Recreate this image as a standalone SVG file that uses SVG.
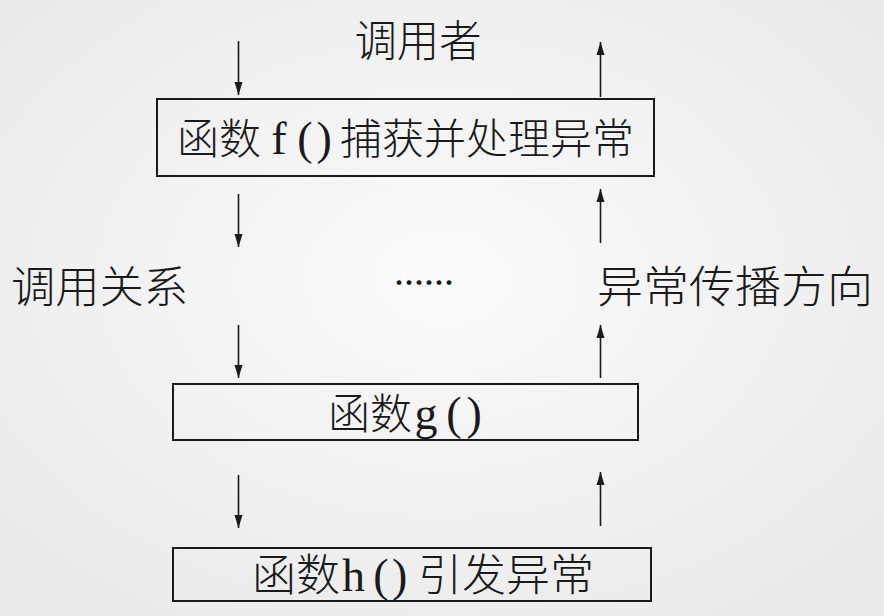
<svg xmlns="http://www.w3.org/2000/svg" width="884" height="616" viewBox="0 0 884 616">
<defs>
<radialGradient id="bg" cx="0.5" cy="0.45" r="0.7">
<stop offset="0" stop-color="#fbfbfb"/>
<stop offset="1" stop-color="#e9e9e9"/>
</radialGradient>
<marker id="ah" viewBox="0 0 13 12" refX="13" refY="6" markerWidth="13" markerHeight="12" markerUnits="userSpaceOnUse" orient="auto">
<path d="M0,2 L13,6 L0,10 z" fill="#1a1a1a"/>
</marker>
<style>
.t{font-family:"Noto Sans CJK SC","Liberation Serif",sans-serif;font-size:44px;font-weight:300;fill:#1a1a1a;}
.l{font-family:"Liberation Serif","Noto Sans CJK SC",serif;font-size:46px;font-weight:normal;}
.e{font-family:"Noto Sans CJK SC",sans-serif;font-size:30px;font-weight:bold;fill:#1a1a1a;}
.box{fill:none;stroke:#1a1a1a;stroke-width:2;}
.c{stroke:#1a1a1a;stroke-width:1.6;fill:none;marker-end:url(#ah);}
</style>
</defs>
<rect width="884" height="616" fill="url(#bg)"/>
<g id="caller">
<text class="t" x="418" y="57" text-anchor="middle" textLength="127" lengthAdjust="spacingAndGlyphs">调用者</text>
</g>
<g id="node-f">
<rect class="box" x="157" y="99" width="497" height="77"/>
<text class="t" y="154" style="font-size:42px"><tspan x="177 219">函数</tspan><tspan class="l" x="271.3">f</tspan><tspan class="l" x="297.3">(</tspan><tspan class="l" x="316.5">)</tspan><tspan x="340 382 424 466 508 550 592">捕获并处理异常</tspan></text>
</g>
<g id="label-call">
<text class="t" x="11" y="303" textLength="177" lengthAdjust="spacingAndGlyphs">调用关系</text>
</g>
<g id="ellipsis">
<text class="e" x="394" y="294" textLength="60" lengthAdjust="spacingAndGlyphs">……</text>
</g>
<g id="label-propagate">
<text class="t" x="597" y="303" textLength="276" lengthAdjust="spacingAndGlyphs">异常传播方向</text>
</g>
<g id="node-g">
<rect class="box" x="173" y="384" width="465" height="56"/>
<text class="t" y="429" style="font-size:42px"><tspan x="328 370">函数</tspan><tspan class="l" x="414.5">g</tspan><tspan class="l" x="446.3">(</tspan><tspan class="l" x="466.5">)</tspan></text>
</g>
<g id="node-h">
<rect class="box" x="173" y="548" width="478" height="53"/>
<text class="t" y="591"><tspan x="252 296">函数</tspan><tspan class="l" x="342">h</tspan><tspan class="l" x="373.3">(</tspan><tspan class="l" x="392">)</tspan><tspan x="418 462 506 550">引发异常</tspan></text>
</g>
<g id="connectors">
<line class="c" x1="238.5" y1="41" x2="238.5" y2="95"/>
<line class="c" x1="238.5" y1="194" x2="238.5" y2="247"/>
<line class="c" x1="238.5" y1="325" x2="238.5" y2="378"/>
<line class="c" x1="238.5" y1="475" x2="238.5" y2="528"/>
<line class="c" x1="600.5" y1="97" x2="600.5" y2="42"/>
<line class="c" x1="600.5" y1="243" x2="600.5" y2="189"/>
<line class="c" x1="600.5" y1="378" x2="600.5" y2="325"/>
<line class="c" x1="600.5" y1="526" x2="600.5" y2="472"/>
</g>
</svg>
